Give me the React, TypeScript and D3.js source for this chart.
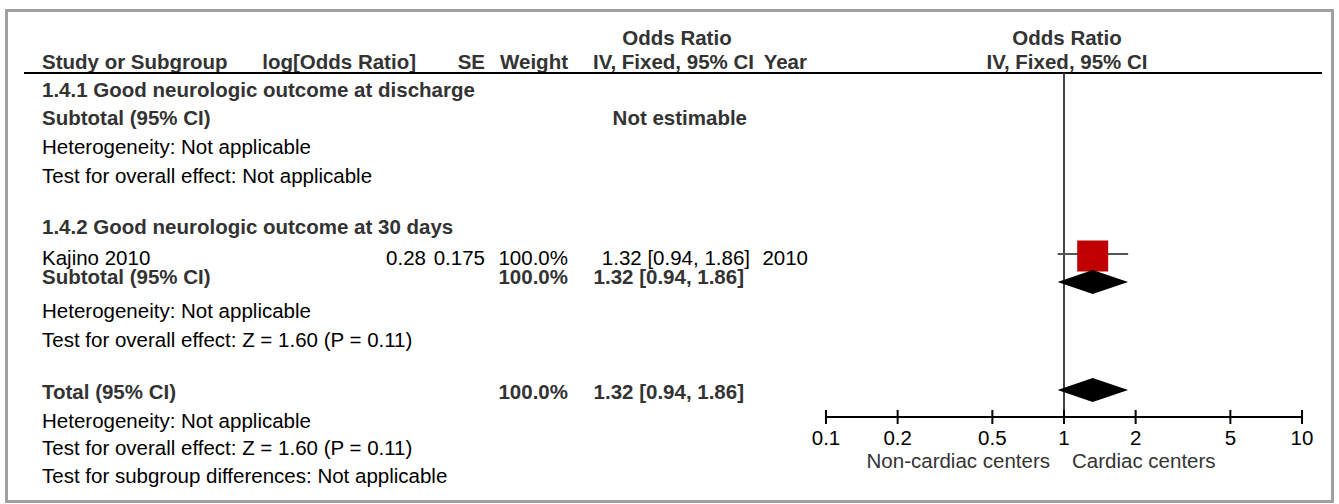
import React from 'react'
import * as d3 from 'd3'

// forest plot data
const axisTicks = [0.1, 0.2, 0.5, 1, 2, 5, 10]
const studyNames = ['Kajino 2010']
const studyLogOR = ['0.28']
const studySE = ['0.175']
const studyWeight = ['100.0%']
const studyOR = [1.32]
const studyLow = [0.94]
const studyHigh = [1.86]
const studyYear = ['2010']
const pooledOR = [1.32, 1.32]
const pooledLow = [0.94, 0.94]
const pooledHigh = [1.86, 1.86]

// kind, text, weight column, OR column
const rows: [string, string, string, string][] = [
  ['group', '1.4.1 Good neurologic outcome at discharge', '', ''],
  ['sub', 'Subtotal (95% CI)', '', 'Not estimable'],
  ['note', 'Heterogeneity: Not applicable', '', ''],
  ['note', 'Test for overall effect: Not applicable', '', ''],
  ['group', '1.4.2 Good neurologic outcome at 30 days', '', ''],
  ['study', '', '', ''],
  ['sub', 'Subtotal (95% CI)', '100.0%', '1.32 [0.94, 1.86]'],
  ['note', 'Heterogeneity: Not applicable', '', ''],
  ['note', 'Test for overall effect: Z = 1.60 (P = 0.11)', '', ''],
  ['sub', 'Total (95% CI)', '100.0%', '1.32 [0.94, 1.86]'],
  ['note', 'Heterogeneity: Not applicable', '', ''],
  ['note', 'Test for overall effect: Z = 1.60 (P = 0.11)', '', ''],
  ['note', 'Test for subgroup differences: Not applicable', '', '']
]
const baselines = [97, 125, 154, 183, 234, 265, 284, 318, 347, 399, 428, 455, 483]

const W = 1339
const H = 504
const font = '"Liberation Sans", Arial, sans-serif'

export default function App () {
  const x = d3.scaleLog().domain([0.1, 10]).range([826, 1302])
  const axisY = 417
  const dark = '#333'
  const fmt = (v: number) => (v < 1 ? String(v) : d3.format('d')(v))
  const studyRow = rows.findIndex(r => r[0] === 'study')
  const diamondRows = [6, 9]

  return <div style={{ position: 'absolute', left: 0, top: 0 }}>
    <svg width={W} height={H} style={{ display: 'block', fontFamily: font, fontSize: 20.5 }}>
      <rect x={0} y={0} width={W} height={H} fill='#fff' />
      <rect x={6.5} y={10.5} width={1326} height={491} fill='none' stroke='#a0a0a0' strokeWidth={3} />

      {/* headers */}
      <g fontWeight='bold' fill={dark}>
        <text x={677} y={45} textAnchor='middle'>Odds Ratio</text>
        <text x={1067} y={45} textAnchor='middle'>Odds Ratio</text>
        <text x={42} y={69}>Study or Subgroup</text>
        <text x={416} y={69} textAnchor='end'>log[Odds Ratio]</text>
        <text x={485} y={69} textAnchor='end'>SE</text>
        <text x={568} y={69} textAnchor='end'>Weight</text>
        <text x={754} y={69} textAnchor='end'>IV, Fixed, 95% CI</text>
        <text x={807} y={69} textAnchor='end'>Year</text>
        <text x={1067} y={69} textAnchor='middle'>IV, Fixed, 95% CI</text>
      </g>
      <line x1={24} x2={1322} y1={73} y2={73} stroke='#000' strokeWidth={2} />

      {/* rows */}
      {rows.map((r, i) => {
        const y = baselines[i]
        const bold = r[0] === 'group' || r[0] === 'sub'
        return <g key={i} fontWeight={bold ? 'bold' : 'normal'} fill={bold ? dark : '#000'}>
          <text x={42} y={y}>{r[1]}</text>
          {r[2] && <text x={568} y={y} textAnchor='end'>{r[2]}</text>}
          {r[3] && <text x={r[3] === 'Not estimable' ? 747 : 744} y={y} textAnchor='end'>{r[3]}</text>}
        </g>
      })}
      {studyNames.map((n, i) => {
        const y = baselines[studyRow + i]
        return <g key={n}>
          <text x={42} y={y}>{n}</text>
          <text x={426} y={y} textAnchor='end'>{studyLogOR[i]}</text>
          <text x={485} y={y} textAnchor='end'>{studySE[i]}</text>
          <text x={568} y={y} textAnchor='end'>{studyWeight[i]}</text>
          <text x={750} y={y} textAnchor='end'>{`${studyOR[i].toFixed(2)} [${studyLow[i].toFixed(2)}, ${studyHigh[i].toFixed(2)}]`}</text>
          <text x={808} y={y} textAnchor='end'>{studyYear[i]}</text>
        </g>
      })}

      {/* null line */}
      <line x1={x(1)} x2={x(1)} y1={73} y2={axisY} stroke='#444' strokeWidth={2} />

      {/* studies */}
      {studyOR.map((v, i) => {
        const cy = baselines[studyRow + i] - 9
        const s = 31
        return <g key={i}>
          <line x1={x(studyLow[i])} x2={x(studyHigh[i])} y1={cy - 2} y2={cy - 2} stroke='#555' strokeWidth={2} />
          <rect x={x(v) - s / 2} y={cy - s / 2} width={s} height={s} fill='#c00000' />
        </g>
      })}

      {/* pooled diamonds */}
      {pooledOR.map((v, i) => {
        const cy = diamondRows[i] === 6 ? baselines[6] - 2 : baselines[9] - 9
        const h = 12
        const pts = [[x(pooledLow[i]), cy], [x(v), cy - h], [x(pooledHigh[i]), cy], [x(v), cy + h]]
        return <polygon key={i} points={pts.map(p => p.join(',')).join(' ')} fill='#000' />
      })}

      {/* axis */}
      <line x1={x(0.1)} x2={x(10)} y1={axisY} y2={axisY} stroke='#000' strokeWidth={2} />
      {axisTicks.map(t => <g key={t} transform={`translate(${x(t)},${axisY})`}>
        <line y1={-7} y2={7} stroke='#000' strokeWidth={2} />
        <text y={28} textAnchor='middle' fill='#000'>{fmt(t)}</text>
      </g>)}
      <text x={x(1) - 14} y={468} textAnchor='end' fill={dark}>Non-cardiac centers</text>
      <text x={x(1) + 8} y={468} fill={dark}>Cardiac centers</text>
    </svg>
  </div>
}
